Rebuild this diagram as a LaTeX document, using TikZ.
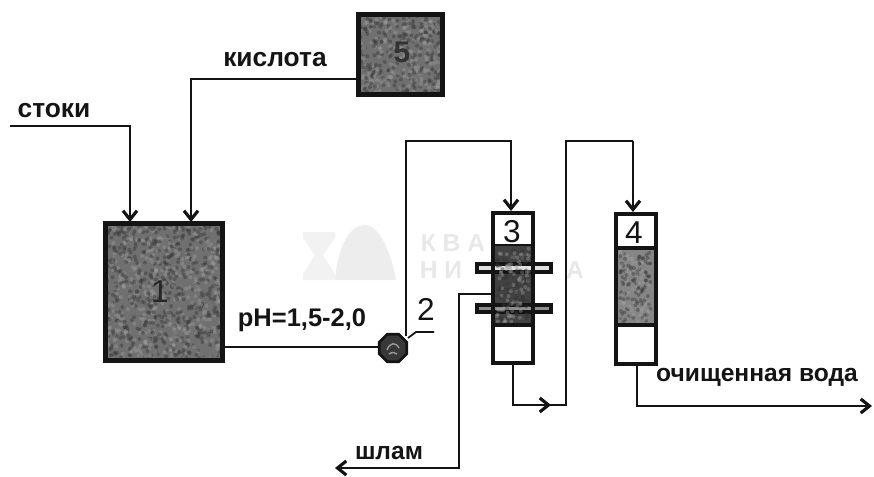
\documentclass[tikz,border=0pt]{standalone}
\usepackage{fontspec}
\setmainfont{Liberation Sans}
\usetikzlibrary{arrows.meta,shapes.geometric}
\definecolor{fillA}{gray}{0.44}
\definecolor{fillB}{gray}{0.26}
\definecolor{ink}{gray}{0.08}
\newcommand{\specks}[5]{% x0 y0 w h count
 \foreach \i in {1,...,#5}{
  \pgfmathsetmacro{\px}{#1+rnd*#3}
  \pgfmathsetmacro{\py}{#2+rnd*#4}
  \pgfmathsetmacro{\pg}{rnd}
  \pgfmathparse{\pg<0.45?38:80}
  \edef\pc{\pgfmathresult}
  \fill[black!\pc!white,opacity=0.4] (\px,\py) circle (2);
 }}
\tikzset{
 x=0.02cm,y=-0.02cm,
 pipe/.style={draw=ink,line width=1.4pt},
 flow/.style={pipe,-{Straight Barb[length=5pt,width=8pt,line width=1.8pt]}},
 unit/.style={draw=ink,line width=2.8pt},
 lbl/.style={text=ink,font=\fontsize{15}{15}\selectfont\bfseries,inner sep=0pt},
 num/.style={text=ink,font=\fontsize{18}{18}\selectfont,inner sep=0pt},
 wm/.style={text=black!9,font=\fontsize{14}{14}\selectfont\bfseries,inner sep=0pt},
}
\pgfmathsetseed{42}
\begin{document}
\begin{tikzpicture}
\useasboundingbox (0,0) rectangle (874,476);
% watermark
\fill[black!7] (335,280) .. controls (338,245) and (350,225) .. (365,225) .. controls (380,225) and (392,255) .. (396,280) -- cycle;
\fill[black!5] (303,232) -- (335,232) -- (335,238) -- (323,255) -- (335,274) -- (335,280) -- (303,280) -- (303,274) -- (315,255) -- (303,238) -- cycle;
\node[wm] at (453,243) {К В А};
\node[wm] at (441,270) {Н И};
\node[wm] at (575,270) {А};
% unit 1
\coordinate (u1a) at (105.5,223.5);
\coordinate (u1b) at (222.5,360.5);
\fill[fillA] (u1a) rectangle (u1b);
\specks{107}{225}{114}{134}{900}
\draw[unit] (u1a) rectangle (u1b);
\node[num,text=black!85] (n1) at (160,292) {1};
% unit 5
\coordinate (u5a) at (358.5,14.5);
\coordinate (u5b) at (442.5,94.5);
\fill[fillA] (u5a) rectangle (u5b);
\specks{360}{16}{81}{77}{380}
\draw[unit] (u5a) rectangle (u5b);
\node[num,font=\fontsize{17}{17}\selectfont\bfseries,text=black!80] (n5) at (402,52) {5};
% column 3
\fill[white] (493,213) rectangle (533,363);
\fill[fillB] (493,245) rectangle (533,325);
\draw[draw=ink,line width=2.6pt,fill=black!12] (477,264) rectangle (551,272);
\draw[draw=ink,line width=2.6pt,fill=black!45] (477,305) rectangle (551,312);
\specks{497}{248}{32}{74}{170}
\draw[unit,line width=2.5pt] (493,213) rectangle (533,363);
\draw[ink,line width=1pt] (493,245) -- (533,245);
\draw[ink,line width=2pt] (493,325) -- (533,325);
\node[num] (n3) at (512,232) {3};
% column 4
\fill[white] (616,214) rectangle (656,364);
\fill[fillA!85!white] (616,248) rectangle (656,325);
\specks{620}{252}{32}{70}{170}
\draw[unit,line width=2.5pt] (616,214) rectangle (656,364);
\draw[ink,line width=2.6pt] (616,248) -- (656,248);
\draw[ink,line width=2.6pt] (616,325) -- (656,325);
\node[num] (n4) at (634,233) {4};
% pump
\node[draw=ink,fill=black!78,line width=1.5pt,regular polygon,regular polygon sides=8,minimum size=17pt,inner sep=0pt] (p2) at (393,348) {};
\draw[black!40,line width=0.8pt] (387,350) .. controls (390,342) and (396,342) .. (399,348);
\draw[black!40,line width=0.8pt] (389,354) .. controls (392,352) and (395,352) .. (397,354);
% pipes
\coordinate (s0) at (10,126);
\coordinate (s1) at (130,126);
\coordinate (s2) at (130,222);
\draw[flow] (s0) -- (s1) -- (s2);
\coordinate (k0) at (357,79);
\coordinate (k1) at (191,79);
\coordinate (k2) at (191,222);
\draw[flow] (k0) -- (k1) -- (k2);
\coordinate (pin) at (223,347);
\draw[pipe] (pin) -- (p2.west |- pin);
\coordinate (a0) at (406,336);
\coordinate (a1) at (406,141);
\coordinate (a2) at (511,141);
\coordinate (a3) at (511,211);
\draw[flow] (a0) -- (a1) -- (a2) -- (a3);
\coordinate (b0) at (513,364);
\coordinate (b1) at (513,405);
\coordinate (b2) at (566,405);
\coordinate (b3) at (566,141);
\coordinate (b4) at (633,141);
\coordinate (b5) at (633,212);
\draw[pipe] (b0) -- (b1) -- (b2) -- (b3) -- (b4);
\draw[flow] (b4) -- (b5);
\draw[flow] (b1) -- (551,405);
\coordinate (c0) at (637,365);
\coordinate (c1) at (637,406);
\coordinate (c2) at (872,406);
\draw[flow] (c0) -- (c1) -- (c2);
\coordinate (d0) at (491,294);
\coordinate (d1) at (459,294);
\coordinate (d2) at (459,468);
\coordinate (d3) at (335,468);
\draw[flow] (d0) -- (d1) -- (d2) -- (d3);
\coordinate (l0) at (408,338);
\coordinate (l1) at (416,332);
\coordinate (l2) at (434,332);
\draw[pipe,line width=1pt] (l0) -- (l1) -- (l2);
% labels
\node[lbl] (t1) at (54,111) {стоки};
\node[lbl] (t2) at (275,60) {кислота};
\node[lbl,font=\fontsize{14}{14}\selectfont\bfseries] (t3) at (389,453) {шлам};
\node[lbl,font=\fontsize{14.5}{15}\selectfont\bfseries] (t4) at (302,320) {pH=1,5-2,0};
\node[lbl,font=\fontsize{14}{15}\selectfont\bfseries] (t5) at (757,377) {очищенная вода};
\node[num] (n2) at (426,309) {2};
\end{tikzpicture}
\end{document}
